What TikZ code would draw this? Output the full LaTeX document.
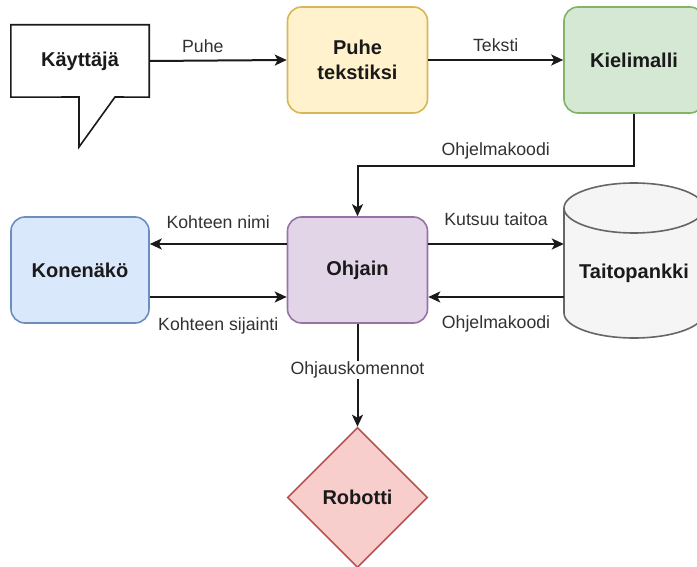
\documentclass[tikz,border=0pt]{standalone}
\usepackage{fontspec}
\setmainfont{Liberation Sans}
\usetikzlibrary{shapes.geometric,arrows.meta}
\definecolor{ylwF}{HTML}{FFF2CC}\definecolor{ylwD}{HTML}{D6B656}
\definecolor{grnF}{HTML}{D5E8D4}\definecolor{grnD}{HTML}{82B366}
\definecolor{purF}{HTML}{E1D5E7}\definecolor{purD}{HTML}{9673A6}
\definecolor{bluF}{HTML}{DAE8FC}\definecolor{bluD}{HTML}{6C8EBF}
\definecolor{gryF}{HTML}{F5F5F5}\definecolor{gryD}{HTML}{666666}
\definecolor{redF}{HTML}{F8CECC}\definecolor{redD}{HTML}{B85450}
\definecolor{ink}{HTML}{1A1A1A}
\begin{document}
\begin{tikzpicture}[x=1pt,y=-1pt,
  box/.style={rectangle, rounded corners=14pt, line width=1.6pt, minimum width=140pt, minimum height=106pt,
    font=\fontsize{20}{25}\selectfont\bfseries, align=center, text=ink},
  bold/.style={font=\fontsize{20}{25}\selectfont\bfseries, text=ink},
  lbl/.style={font=\fontsize{17.7}{20}\selectfont, text=ink!90, inner sep=1pt},
  arr/.style={line width=2pt, draw=ink, -{Stealth[length=12pt,width=11pt,inset=3pt]}},
  shp/.style={line width=1.6pt, line join=miter}]
\useasboundingbox (0,0) rectangle (697,567);
% speech bubble
\node[bold, rectangle, minimum width=138pt, minimum height=72pt] (kay) at (80,61) {Käyttäjä};
\draw[shp, draw=ink] (kay.north west) -- (kay.north east) -- (kay.south east) -- (115,97) -- (79,147) -- (79,97) -- (kay.south west) -- cycle;
% boxes
\node[box, fill=ylwF, draw=ylwD] (pt) at (357.5,60) {Puhe\\tekstiksi};
\node[box, fill=grnF, draw=grnD] (km) at (634,60) {Kielimalli};
\node[box, fill=purF, draw=purD] (oh) at (357.5,270) {Ohjain};
\node[box, fill=bluF, draw=bluD, minimum width=138pt] (kn) at (80,270) {Konenäkö};
% cylinder
\filldraw[shp, fill=gryF, draw=gryD] (564,208) -- (564,313)
  arc[start angle=180, end angle=360, x radius=70pt, y radius=25pt] -- (704,208)
  arc[start angle=0, end angle=180, x radius=70pt, y radius=25pt] -- cycle;
\draw[shp, draw=gryD] (564,208) arc[start angle=180, end angle=360, x radius=70pt, y radius=25pt];
\node[bold, minimum width=140pt] (tp) at (634,273) {Taitopankki};
% diamond
\node[diamond, aspect=1, minimum width=140pt, minimum height=140pt, inner sep=0pt, shp,
  fill=redF, draw=redD, bold] (rob) at (357.5,497.5) {Robotti};
% connectors
\draw[arr] (kay.east) -- node[lbl, pos=0.39, yshift=14pt] {Puhe} (pt.west);
\draw[arr] (pt.east) -- node[lbl, midway, yshift=15pt] {Teksti} (km.west);
\draw[arr] (km.south) -- ++(0,52) -| node[lbl, pos=0.25, yshift=15pt] {Ohjelmakoodi} (oh.north);
\draw[arr] ([yshift=26pt]oh.west) -- node[lbl, midway, yshift=22pt] {Kohteen nimi} ([yshift=26pt]kn.east);
\draw[arr] ([yshift=-27pt]kn.east) -- node[lbl, midway, yshift=-29pt] {Kohteen sijainti} ([yshift=-27pt]oh.west);
\draw[arr] ([yshift=26pt]oh.east) -- node[lbl, midway, yshift=25pt] {Kutsuu taitoa} ([yshift=26pt]oh.east -| tp.west);
\draw[arr] ([yshift=-27pt]oh.east -| tp.west) -- node[lbl, midway, yshift=-27pt] {Ohjelmakoodi} ([yshift=-27pt]oh.east);
\draw[arr] (oh.south) -- node[lbl, pos=0.45, fill=white] {Ohjauskomennot} (rob.north);
\end{tikzpicture}
\end{document}
